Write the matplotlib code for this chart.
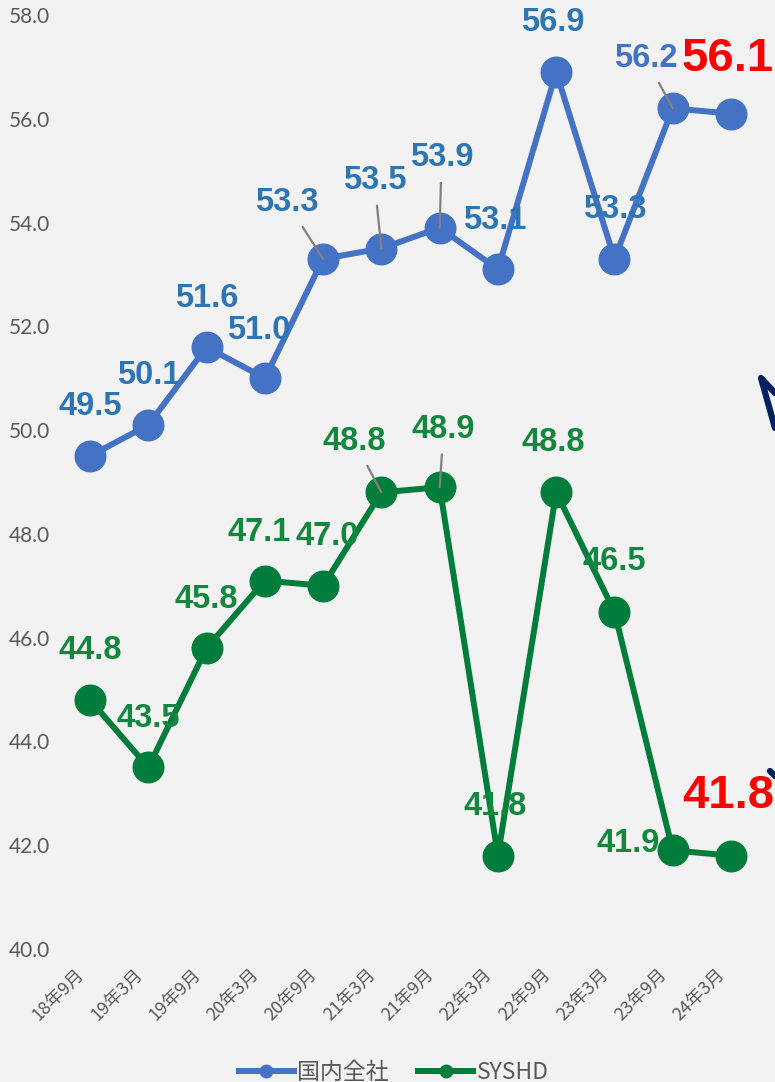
import matplotlib
matplotlib.use("Agg")
import matplotlib.pyplot as plt
from matplotlib.lines import Line2D
from matplotlib.transforms import ScaledTranslation

# データ
periods = ["18年9月", "19年3月", "19年9月", "20年3月", "20年9月", "21年3月",
           "21年9月", "22年3月", "22年9月", "23年3月", "23年9月", "24年3月"]
kokunai = [49.5, 50.1, 51.6, 51.0, 53.3, 53.5, 53.9, 53.1, 56.9, 53.3, 56.2, 56.1]
syshd = [44.8, 43.5, 45.8, 47.1, 47.0, 48.8, 48.9, 41.8, 48.8, 46.5, 41.9, 41.8]

# ラベル位置 (pixel offset from point)
off_kokunai = [(0, 50), (0, 49), (0, 49), (-6, 48), (-36, 56), (-7, 68),
               (2, 70), (-3, 49), (-3, 50), (0, 49), (-27, 50), (-3, 55)]
off_syshd = [(0, 49), (0, 49), (0, 49), (-6, 48), (4, 49), (-27, 51),
             (4, 58), (-3, 49), (-3, 50), (0, 50), (-45, 7), (-3, 60)]
leader_kokunai = [4, 5, 6, 10]
leader_syshd = [5, 6]

BG = "#f2f2f2"
BLUE = "#4472c4"
BLUE_TXT = "#2e75b6"
GREEN = "#007d3a"
GREEN_TXT = "#13873e"
RED = "#ff0000"
NUMFONT = "Liberation Sans"

W, H = 775, 1082
fig = plt.figure(figsize=(W / 100, H / 100), dpi=100, facecolor=BG)
ax = fig.add_axes([60.9 / W, 1 - 949 / H, (W - 60.9) / W, (949 - 15) / H])
ax.set_facecolor(BG)

x = list(range(len(periods)))
ax.plot(x, kokunai, color=BLUE, lw=4.3, marker="o", ms=22, zorder=2)
ax.plot(x, syshd, color=GREEN, lw=4.3, marker="o", ms=22, zorder=2)

ax.set_xlim(-0.5, 11.755)
ax.set_ylim(40, 58)
ax.set_yticks([40, 42, 44, 46, 48, 50, 52, 54, 56, 58])
ax.set_yticklabels([f"{v:.1f}" for v in ax.get_yticks()],
                   fontfamily="Lato", fontsize=15, color="#595959")
ax.set_xticks(x)
ax.set_xticklabels(periods, rotation=45, ha="right", rotation_mode="anchor",
                   fontfamily=["Noto Sans CJK JP", "DejaVu Sans"], fontsize=12.8,
                   color="#595959")
ax.tick_params(axis="both", length=0)
ax.tick_params(axis="y", pad=8)
ax.tick_params(axis="x", pad=12)
shift = ScaledTranslation(-15 / 100, 0, fig.dpi_scale_trans)
for lab in ax.get_xticklabels():
    lab.set_transform(lab.get_transform() + shift)
for s in ax.spines.values():
    s.set_visible(False)


def put_labels(vals, offs, leaders, txtcolor):
    for i, v in enumerate(vals):
        last = i == len(vals) - 1
        col = RED if last else txtcolor
        if i == 10 and txtcolor == BLUE_TXT:
            col = BLUE
        size = 34 if last else 23.5
        ap = None
        if i in leaders:
            ap = dict(arrowstyle="-", color="#808080", lw=1.6, shrinkA=5, shrinkB=0)
        ax.annotate(f"{v:.1f}", (i, v), xytext=offs[i], textcoords="offset pixels",
                    ha="center", va="center", fontfamily=NUMFONT, fontweight="bold",
                    fontsize=size, color=col, arrowprops=ap, zorder=4,
                    annotation_clip=False)


put_labels(kokunai, off_kokunai, leader_kokunai, BLUE_TXT)
put_labels(syshd, off_syshd, leader_syshd, GREEN_TXT)

# 右端の矢印の一部
navy = "#002060"
fig.add_artist(Line2D([775 / W, 761 / W, 775 / W],
                      [1 - 393 / H, 1 - 378 / H, 1 - 428 / H],
                      color=navy, lw=4.5, solid_capstyle="round",
                      solid_joinstyle="round"))
fig.add_artist(Line2D([770 / W, 775 / W], [1 - 771 / H, 1 - 776 / H],
                      color=navy, lw=4.5, solid_capstyle="round"))

handles = [Line2D([], [], color=BLUE, lw=4.3, marker="o", ms=9),
           Line2D([], [], color=GREEN, lw=4.3, marker="o", ms=9)]
fig.legend(handles, ["国内全社", "SYSHD"], loc="lower center",
           bbox_to_anchor=(0.508, -0.006), ncol=2, frameon=False,
           prop={"family": ["Noto Sans CJK JP", "DejaVu Sans"], "size": 16.5},
           labelcolor="#595959", handlelength=2.4, handletextpad=0.15,
           columnspacing=1.3, borderaxespad=0, borderpad=0.2)

fig.savefig("out.png", dpi=100, facecolor=BG)
